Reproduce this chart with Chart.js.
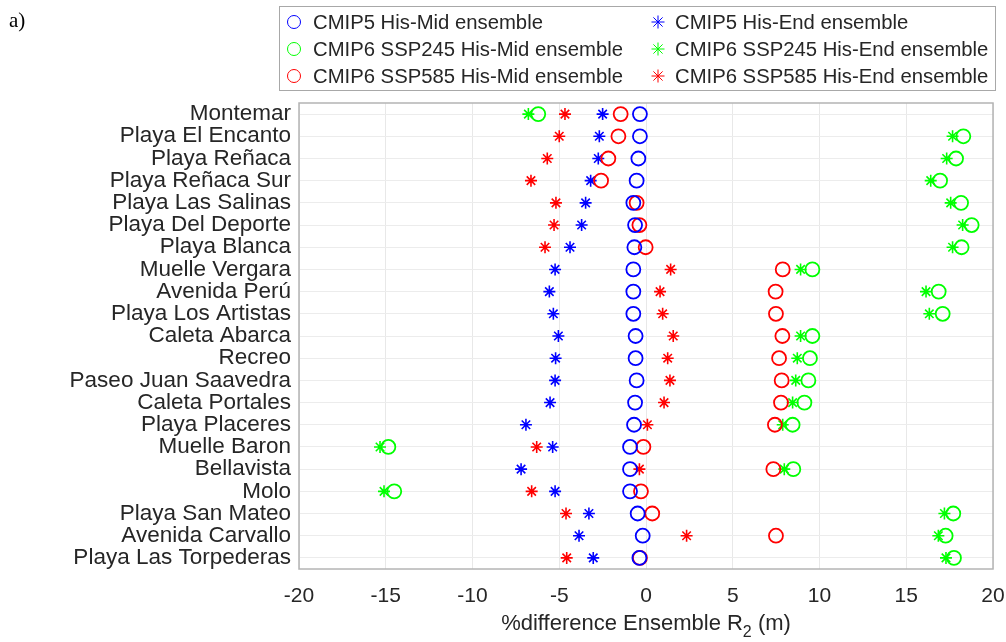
<!DOCTYPE html>
<html>
<head>
<meta charset="utf-8">
<script src="https://cdn.jsdelivr.net/npm/chart.js@4.4.0/dist/chart.umd.min.js"></script>
<style>
html, body { margin: 0; padding: 0; background: #fff; }
</style>
</head>
<body>
<canvas id="r2Chart" width="1006" height="642"></canvas>
<script>
var sites = ['Montemar', 'Playa El Encanto', 'Playa Reñaca', 'Playa Reñaca Sur', 'Playa Las Salinas',
	'Playa Del Deporte', 'Playa Blanca', 'Muelle Vergara', 'Avenida Perú', 'Playa Los Artistas',
	'Caleta Abarca', 'Recreo', 'Paseo Juan Saavedra', 'Caleta Portales', 'Playa Placeres',
	'Muelle Baron', 'Bellavista', 'Molo', 'Playa San Mateo', 'Avenida Carvallo', 'Playa Las Torpederas'];

var xTicks = [-20, -15, -10, -5, 0, 5, 10, 15, 20];

// % difference per site, His-Mid and His-End ensembles
var cmip5Mid  = [-0.35, -0.35, -0.44, -0.54, -0.73, -0.63, -0.67, -0.73, -0.73, -0.73, -0.60, -0.60, -0.54, -0.63, -0.69, -0.92, -0.92, -0.92, -0.48, -0.19, -0.38];
var cmip5End  = [-2.50, -2.69, -2.75, -3.19, -3.48, -3.71, -4.38, -5.24, -5.57, -5.34, -5.05, -5.21, -5.24, -5.53, -6.92, -5.38, -7.20, -5.24, -3.29, -3.86, -3.04];
var ssp245Mid = [-6.21, 18.29, 17.87, 16.95, 18.16, 18.77, 18.19, 9.59, 16.87, 17.10, 9.59, 9.45, 9.36, 9.13, 8.45, -14.85, 8.49, -14.51, 17.71, 17.27, 17.75];
var ssp245End = [-6.78, 17.67, 17.33, 16.41, 17.56, 18.25, 17.67, 8.91, 16.14, 16.33, 8.91, 8.72, 8.63, 8.45, 7.88, -15.33, 7.97, -15.10, 17.20, 16.85, 17.29];
var ssp585Mid = [-1.46, -1.59, -2.17, -2.59, -0.54, -0.38, -0.02, 7.88, 7.47, 7.49, 7.86, 7.67, 7.82, 7.78, 7.43, -0.15, 7.34, -0.29, 0.36, 7.49, -0.35];
var ssp585End = [-4.67, -5.00, -5.69, -6.63, -5.19, -5.30, -5.82, 1.42, 0.81, 0.96, 1.57, 1.25, 1.38, 1.04, 0.08, -6.30, -0.38, -6.59, -4.61, 2.34, -4.57];

var FONT = "'Liberation Sans', Arial, sans-serif";
var TEXT = '#262626';

function pts(values) {
	return values.map(function(v, i) { return { x: v, y: sites[i] }; });
}

function series(label, values, color, style) {
	var star = style === 'star';
	return {
		label: label,
		data: pts(values),
		pointStyle: style,
		pointRadius: star ? 6 : 7,
		pointBorderWidth: star ? 1.6 : 1.8,
		borderColor: color,
		backgroundColor: 'rgba(0,0,0,0)',
		pointBackgroundColor: 'rgba(0,0,0,0)',
		pointBorderColor: color
	};
}

// two-column boxed legend, column-major like the dataset order
var boxLegend = {
	id: 'boxLegend',
	afterDraw: function(chart) {
		var ctx = chart.ctx;
		ctx.save();
		ctx.strokeStyle = '#a8a8a8';
		ctx.lineWidth = 1;
		ctx.strokeRect(279.5, 6.5, 716, 84);
		ctx.font = '20.3px ' + FONT;
		ctx.textBaseline = 'middle';
		ctx.textAlign = 'left';
		var rows = [22, 49, 76];
		var cols = [{ mark: 294, text: 313 }, { mark: 658, text: 675 }];
		chart.data.datasets.forEach(function(ds, i) {
			var col = cols[Math.floor(i / 3)], y = rows[i % 3];
			ctx.strokeStyle = ds.pointBorderColor;
			ctx.fillStyle = 'rgba(0,0,0,0)';
			Chart.helpers.drawPoint(ctx, {
				pointStyle: ds.pointStyle,
				radius: 6.5,
				rotation: 0,
				borderWidth: 1.6
			}, col.mark, y);
			ctx.fillStyle = TEXT;
			ctx.fillText(ds.label, col.text, y + 1);
		});

		// plot box
		var a = chart.chartArea;
		ctx.strokeStyle = '#b4b4b4';
		ctx.lineWidth = 1.5;
		ctx.strokeRect(a.left, a.top, a.right - a.left, a.bottom - a.top);

		// x axis title with subscript
		var cx = (a.left + a.right) / 2, ty = 624;
		ctx.fillStyle = TEXT;
		var pre = '%difference Ensemble R', post = ' (m)';
		ctx.font = '22px ' + FONT;
		var w1 = ctx.measureText(pre).width, w3 = ctx.measureText(post).width;
		ctx.font = '16px ' + FONT;
		var w2 = ctx.measureText('2').width;
		var x0 = cx - (w1 + w2 + w3) / 2;
		ctx.font = '22px ' + FONT;
		ctx.fillText(pre, x0, ty);
		ctx.font = '16px ' + FONT;
		ctx.fillText('2', x0 + w1, ty + 9);
		ctx.font = '22px ' + FONT;
		ctx.fillText(post, x0 + w1 + w2, ty);

		// panel tag
		ctx.font = '21px "Liberation Serif", "Times New Roman", serif';
		ctx.fillStyle = '#000';
		ctx.fillText('a)', 9, 21);
		ctx.restore();
	}
};

var r2Chart = new Chart(document.getElementById('r2Chart'), {
	type: 'scatter',
	data: {
		datasets: [
			series('CMIP5 His-Mid ensemble', cmip5Mid, '#0000ff', 'circle'),
			series('CMIP6 SSP245 His-Mid ensemble', ssp245Mid, '#00ff00', 'circle'),
			series('CMIP6 SSP585 His-Mid ensemble', ssp585Mid, '#ff0000', 'circle'),
			series('CMIP5 His-End ensemble', cmip5End, '#0000ff', 'star'),
			series('CMIP6 SSP245 His-End ensemble', ssp245End, '#00ff00', 'star'),
			series('CMIP6 SSP585 His-End ensemble', ssp585End, '#ff0000', 'star')
		]
	},
	options: {
		responsive: false,
		animation: false,
		layout: { padding: { left: 0, right: 0, top: 103, bottom: 0 } },
		plugins: {
			legend: { display: false },
			tooltip: { enabled: false }
		},
		scales: {
			x: {
				type: 'linear',
				min: -20,
				max: 20,
				afterBuildTicks: function(scale) {
					scale.ticks = xTicks.map(function(v) { return { value: v }; });
				},
				grid: { color: '#e8e8e8', lineWidth: 1, drawTicks: false },
				border: { display: false },
				ticks: { color: TEXT, font: { family: FONT, size: 21 }, padding: 15, maxRotation: 0 },
				afterFit: function(scale) {
					scale.height = 73;
					scale.paddingLeft = 0;
					scale.paddingRight = 13;
				}
			},
			y: {
				type: 'category',
				labels: sites,
				offset: true,
				grid: { color: '#ececec', lineWidth: 1, drawTicks: false },
				border: { display: false },
				ticks: { color: TEXT, font: { family: FONT, size: 22.5 }, padding: 8, autoSkip: false },
				afterFit: function(scale) {
					scale.width = 299;
					scale.paddingTop = 0;
					scale.paddingBottom = 0;
				}
			}
		}
	},
	plugins: [boxLegend]
});
</script>
</body>
</html>
